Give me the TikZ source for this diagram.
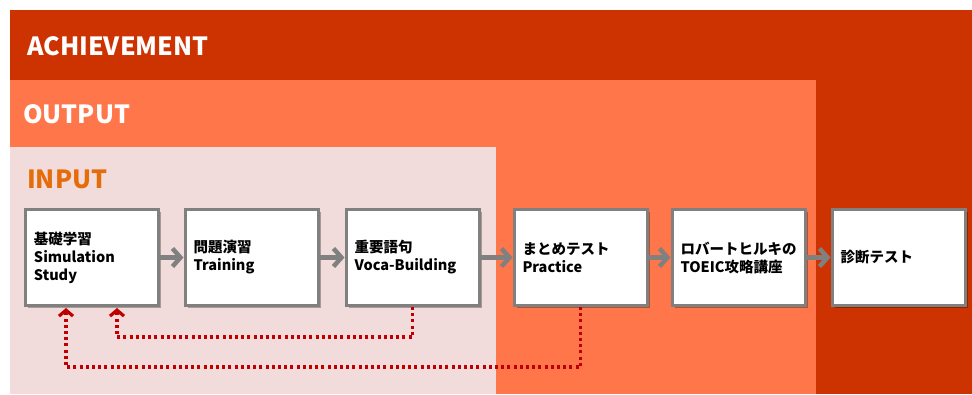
\documentclass[tikz,border=0pt]{standalone}
\usepackage{fontspec}
\setmainfont{Noto Sans CJK JP}
\usetikzlibrary{arrows.meta,shadows}

\definecolor{achieve}{RGB}{204,51,0}
\definecolor{outp}{RGB}{255,118,74}
\definecolor{inp}{RGB}{242,220,219}
\definecolor{inptxt}{RGB}{228,108,10}
\definecolor{boxline}{RGB}{128,128,128}
\definecolor{loopred}{RGB}{192,0,0}

\tikzset{
	stage/.style={draw=boxline,line width=3pt,fill=white,
		minimum width=133pt,minimum height=96pt,inner xsep=0pt,
		text width=116pt,align=left,font=\fontsize{14.5}{18}\selectfont\bfseries,
		drop shadow={shadow xshift=2.5pt,shadow yshift=-2.5pt,fill=black,opacity=.3}},
	flow/.style={draw=boxline,line width=4.5pt,-{Straight Barb[length=8pt,width=18pt]}},
	loopback/.style={draw=loopred,line width=3.2pt,dash pattern=on 3pt off 3.2pt,
		-{Straight Barb[length=6pt,width=14pt]},shorten >=1pt},
	layer/.style={anchor=west,inner sep=0pt,font=\fontsize{25}{30}\selectfont\bfseries}
}

\begin{document}
\begin{tikzpicture}[x=1pt,y=-1pt]
\useasboundingbox (0,0) rectangle (972,394);
% layers
\fill[achieve] (10,10) rectangle (972,394);
\fill[outp] (10,80) rectangle (816,394);
\fill[inp] (10,147) rectangle (496,394);
\node[layer,text=white] (achv) at (27,46) {ACHIEVEMENT};
\node[layer,text=white] (outlbl) at (23,114) {OUTPUT};
\node[layer,text=inptxt] (inlbl) at (27,179) {INPUT};
% steps
\foreach \n/\x/\t in{
	s1/92/{基礎学習\\Simulation\\Study},
	s2/251.5/{問題演習\\Training},
	s3/412.5/{重要語句\\Voca-Building},
	s4/580.5/{まとめテスト\\Practice},
	s5/738.5/{ロバートヒルキの\\TOEIC攻略講座},
	s6/898.5/{診断テスト}
}
{
	\node[stage] (\n) at (\x,257.5) {\t};
}
\foreach \a/\b in {s1/s2,s2/s3,s3/s4,s4/s5,s5/s6}
	\draw[flow] (\a) -- (\b);
% back to the start
\draw[loopback] (s3.south) -- ++(0,30) -| ([xshift=25pt]s1.south);
\draw[loopback] (s4.south) -- ++(0,60) -| ([xshift=-26pt]s1.south);
\end{tikzpicture}
\end{document}
